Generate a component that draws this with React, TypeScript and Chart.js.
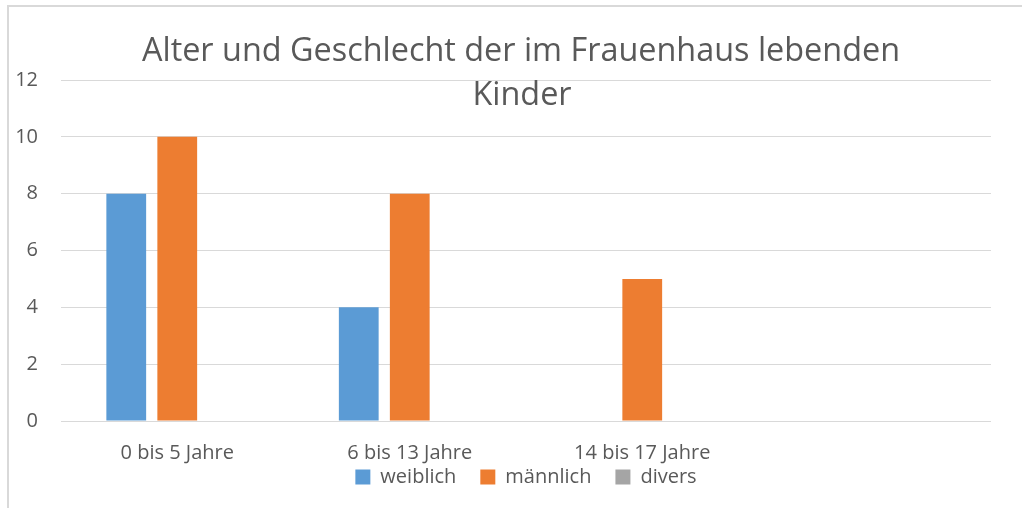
import React, { useEffect, useRef } from "react";
import { Chart, registerables } from "chart.js";

Chart.register(...registerables);

const categories = ["0 bis 5 Jahre", "6 bis 13 Jahre", "14 bis 17 Jahre", ""];
const weiblich = [8, 4, 0, 0];
const maennlich = [10, 8, 5, 0];
const divers = [0, 0, 0, 0];
const titleLines = ["Alter und Geschlecht der im Frauenhaus lebenden", "Kinder"];
const yTicks = [0, 2, 4, 6, 8, 10, 12];

const FONT = "'Open Sans', sans-serif";
const TEXT = "#595959";
const LEGEND_SHIFT = 42;

const titlePlugin = {
  id: "overlayTitle",
  afterLayout(chart: any) {
    const lg = chart.legend;
    if (lg) {
      lg.top -= LEGEND_SHIFT;
      lg.bottom -= LEGEND_SHIFT;
    }
  },
  afterDraw(chart: any) {
    const ctx = chart.ctx;
    ctx.save();
    ctx.fillStyle = TEXT;
    ctx.font = `32.4px ${FONT}`;
    ctx.textAlign = "center";
    ctx.textBaseline = "alphabetic";
    ctx.fillText(titleLines[0], 521, 61);
    ctx.fillText(titleLines[1], 522, 105);
    ctx.restore();
  },
};

export default function App() {
  const ref = useRef<HTMLCanvasElement>(null);
  useEffect(() => {
    if (!ref.current) return;
    const chart = new Chart(ref.current, {
      type: "bar",
      data: {
        labels: categories,
        datasets: [
          { label: "weiblich", data: weiblich, backgroundColor: "#5B9BD5" },
          { label: "männlich", data: maennlich, backgroundColor: "#ED7D31" },
          { label: "divers", data: divers, backgroundColor: "#A5A5A5" },
        ],
      },
      options: {
        animation: false,
        responsive: false,
        maintainAspectRatio: false,
        devicePixelRatio: 1,
        datasets: { bar: { categoryPercentage: 0.658, barPercentage: 0.78 } },
        layout: { padding: { left: 8, right: 31, top: 80, bottom: -22 } },
        scales: {
          x: {
            grid: { display: false, drawTicks: false },
            border: { display: false },
            ticks: { color: TEXT, font: { family: FONT, size: 20 }, padding: 20, maxRotation: 0 },
          },
          y: {
            min: 0,
            max: 12,
            afterFit: (s: any) => { s.width = 53; },
            afterBuildTicks: (s: any) => { s.ticks = yTicks.map((v) => ({ value: v })); },
            grid: { color: "#D9D9D9", lineWidth: 1, drawTicks: false },
            border: { display: false },
            ticks: { color: TEXT, font: { family: FONT, size: 20 }, padding: 23 },
          },
        },
        plugins: {
          title: { display: false },
          tooltip: { enabled: false },
          legend: {
            position: "bottom",
            fullSize: false,
            maxHeight: 45,
            labels: {
              color: TEXT,
              font: { family: FONT, size: 20 },
              boxWidth: 15,
              boxHeight: 15,
              padding: 24,
            },
          },
        },
      },
      plugins: [titlePlugin],
    });
    return () => chart.destroy();
  }, []);
  return (
    <div style={{ position: "fixed", left: 0, top: 0, width: 1022, height: 508, overflow: "hidden", background: "#fff" }}>
      <div style={{ position: "absolute", left: 7, top: 5, width: 1100, height: 600, borderTop: "2px solid #D9D9D9", borderLeft: "2px solid #D9D9D9" }} />
      <canvas ref={ref} width={1022} height={508} style={{ position: "absolute", left: 0, top: 0, width: 1022, height: 508 }} />
    </div>
  );
}
